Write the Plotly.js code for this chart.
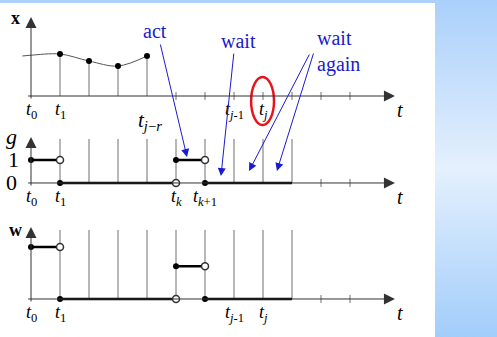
<!DOCTYPE html>
<html><head><meta charset="utf-8">
<script src="https://cdn.plot.ly/plotly-3.0.1.min.js"></script>
<style>
html,body{margin:0;padding:0;width:497px;height:337px;overflow:hidden;
background:linear-gradient(180deg,#aad0fb 0%,#e4f0fd 50%,#a2cdfb 100%);}
#chart{width:497px;height:337px;}
</style></head><body><div id="chart"></div>
<script>
// Sampling instants t_0 ... t_11 (index i stands for t_i)
const gridIdx = [0,1,2,3,4,5,6,7,8,9,10,11];
const idxK = 5, idxJ = 8, idxJR = 4, idxEnd = 9;

// State trajectory x(t) and its samples up to t_{j-r}
const xCurveT = [-0.3, 0, 1, 2, 3, 4];
const xCurveV = [1.0, 1.02, 1.05, 0.875, 0.75, 1.0];
const xSampleT = [1, 2, 3, 4];
const xSampleV = [1.05, 0.875, 0.75, 1.0];

// Event trigger g: piecewise constant between break instants
const gBreaks = [0, 1, 5, 6, 9];
const gLevels = [1, 0, 1, 0];

// Control signal w: piecewise constant on the same breaks
const wBreaks = [0, 1, 5, 6, 9];
const wLevels = [1.0, 0, 0.63, 0];

// Tick labels on each time axis
const xTickPos = [0, 1, 7, 8];
const xTickText = ['<i>t</i><sub>0</sub>', '<i>t</i><sub>1</sub>', '<i>t</i><sub><i>j</i>-1</sub>', '<i>t</i><sub><i>j</i></sub>'];
const gTickPos = [0, 1, 5, 6];
const gTickText = ['<i>t</i><sub>0</sub>', '<i>t</i><sub>1</sub>', '<i>t</i><sub><i>k</i></sub>', '<i>t</i><sub><i>k</i>+1</sub>'];
const wTickPos = [0, 1, 7, 8];
const wTickText = ['<i>t</i><sub>0</sub>', '<i>t</i><sub>1</sub>', '<i>t</i><sub><i>j</i>-1</sub>', '<i>t</i><sub><i>j</i></sub>'];

const AX = '#707070', INK = '#000', BLUE = '#1a1ad0';
const serif = 'Times New Roman, Times, Liberation Serif, serif';

// panel geometry in value units
const P = {
  y:  {top: 1.975, grid: null, tick: 0.1},
  y2: {top: 2.0,  grid: 1.913, tick: 0.174},
  y3: {top: 1.385, grid: 1.327, tick: 0.077}
};

const traces = [];
function segs(xs, ys, yaxis, color, width) {
  traces.push({x: xs, y: ys, yaxis: yaxis, mode: 'lines', hoverinfo: 'skip',
    line: {color: color, width: width}, connectgaps: false});
}

// small ticks on the time axes beyond the drawn grid
function ticks(from, yaxis, h) {
  const xs = [], ys = [];
  gridIdx.filter(i => i >= from).forEach(i => { xs.push(i, i, null); ys.push(-h, h, null); });
  segs(xs, ys, yaxis, AX, 1);
}

// ---- panel x ----
(function () {
  const xs = [], ys = [];
  xSampleT.forEach((t, k) => { xs.push(t, t, null); ys.push(0, xSampleV[k], null); });
  segs(xs, ys, 'y', AX, 1);
  ticks(idxK, 'y', P.y.tick);
  traces.push({x: xCurveT, y: xCurveV, yaxis: 'y', mode: 'lines', hoverinfo: 'skip',
    line: {color: '#555', width: 1, shape: 'spline', smoothing: 1.0}});
  traces.push({x: xSampleT, y: xSampleV, yaxis: 'y', mode: 'markers', hoverinfo: 'skip',
    marker: {color: INK, size: 6}});
})();

// ---- step panels g and w ----
function stepPanel(breaks, levels, yaxis) {
  const gx = [], gy = [];
  gridIdx.filter(i => i >= 1 && i <= idxEnd).forEach(i => { gx.push(i, i, null); gy.push(0, P[yaxis].grid, null); });
  segs(gx, gy, yaxis, AX, 1);
  ticks(idxEnd + 1, yaxis, P[yaxis].tick);
  const sx = [], sy = [], fx = [], fy = [], ox = [], oy = [];
  levels.forEach((lv, k) => {
    sx.push(breaks[k], breaks[k + 1], null); sy.push(lv, lv, null);
    fx.push(breaks[k]); fy.push(lv);
    if (k < levels.length - 1) { ox.push(breaks[k + 1]); oy.push(lv); }
  });
  segs(sx, sy, yaxis, INK, 2.5);
  traces.push({x: fx, y: fy, yaxis: yaxis, mode: 'markers', hoverinfo: 'skip', marker: {color: INK, size: 6}});
  traces.push({x: ox, y: oy, yaxis: yaxis, mode: 'markers', hoverinfo: 'skip',
    marker: {color: '#fff', size: 7, line: {color: '#333', width: 1.5}}});
}
stepPanel(gBreaks, gLevels, 'y2');
stepPanel(wBreaks, wLevels, 'y3');

const ann = [];
// axis arrows
['y', 'y2', 'y3'].forEach(ya => {
  ann.push({x: 12.55, y: 0, xref: 'x', yref: ya, ax: -0.15, ay: 0, axref: 'x', ayref: ya,
    text: '', showarrow: true, arrowhead: 2, arrowsize: 2.2, arrowwidth: 1, arrowcolor: '#333'});
  ann.push({x: 0, y: P[ya].top, xref: 'x', yref: ya, ax: 0, ay: -P[ya].tick, axref: 'x', ayref: ya,
    text: '', showarrow: true, arrowhead: 2, arrowsize: 2.2, arrowwidth: 1, arrowcolor: '#333'});
  ann.push({x: 12.72, y: 0, xref: 'x', yref: ya, text: '<i>t</i>', showarrow: false,
    yanchor: 'top', yshift: -1, font: {family: serif, size: 20, color: INK}});
});
function tickLabels(pos, text, ya) {
  pos.forEach((p, k) => ann.push({x: p, y: 0, xref: 'x', yref: ya, text: text[k], showarrow: false,
    yanchor: 'top', yshift: -1, font: {family: serif, size: 18, color: INK}}));
}
tickLabels(xTickPos, xTickText, 'y');
tickLabels(gTickPos, gTickText, 'y2');
tickLabels(wTickPos, wTickText, 'y3');
ann.push({x: idxJR + 0.1, y: 0, xref: 'x', yref: 'y', text: '<i>t</i><sub><i>j</i>−<i>r</i></sub>', showarrow: false,
  yanchor: 'top', yshift: -10, font: {family: serif, size: 21, color: INK}});

// axis names
ann.push({x: -0.55, y: 1.95, xref: 'x', yref: 'y', text: '<b>x</b>', showarrow: false, font: {family: serif, size: 18, color: INK}});
ann.push({x: -0.66, y: 2.04, xref: 'x', yref: 'y2', text: '<i>g</i>', showarrow: false, font: {family: serif, size: 22, color: INK}});
ann.push({x: -0.62, y: 1, xref: 'x', yref: 'y2', text: '1', showarrow: false, font: {family: serif, size: 22, color: INK}});
ann.push({x: -0.66, y: 0, xref: 'x', yref: 'y2', text: '0', showarrow: false, font: {family: serif, size: 22, color: INK}});
ann.push({x: -0.52, y: 1.327, xref: 'x', yref: 'y3', text: '<b>w</b>', showarrow: false, font: {family: serif, size: 18, color: INK}});

// decision callouts pointing into the trigger panel
const blueFont = {family: serif, size: 20, color: BLUE};
ann.push({x: 4.28, y: 1.625, xref: 'x', yref: 'y', text: 'act', showarrow: false, font: blueFont});
ann.push({x: 7.14, y: 1.375, xref: 'x', yref: 'y', text: 'wait', showarrow: false, font: blueFont});
ann.push({x: 9.79, y: 1.125, xref: 'x', yref: 'y', text: 'wait<br>again', align: 'left', xanchor: 'left',
  showarrow: false, font: blueFont});
function callout(x, y, ax, ay) {
  ann.push({x: x, y: y, xref: 'x', yref: 'y2', ax: ax, ay: ay, text: '', showarrow: true,
    arrowhead: 2, arrowsize: 1.6, arrowwidth: 1, arrowcolor: BLUE});
}
callout(idxK + 0.38, 1.13, -27, -114);
callout(idxK + 1.55, 0.30, 13, -124);
callout(idxJ - 0.48, 0.52, 61, -118);
callout(idxJ + 0.48, 0.52, 37, -119);

const layout = {
  width: 497, height: 337, margin: {l: 0, r: 0, t: 0, b: 0},
  font: {family: serif},
  paper_bgcolor: 'rgba(0,0,0,0)', plot_bgcolor: 'rgba(0,0,0,0)', showlegend: false,
  xaxis: {range: [-1.069, 16.069], visible: false, fixedrange: true},
  yaxis: {domain: [0.6142, 1], range: [-0.85, 2.4], visible: false, fixedrange: true},
  yaxis2: {domain: [0.3769, 0.6291], range: [-1.174, 2.522], visible: false, fixedrange: true, anchor: 'x'},
  yaxis3: {domain: [0, 0.3709], range: [-0.731, 1.673], visible: false, fixedrange: true, anchor: 'x'},
  shapes: [
    {type: 'rect', xref: 'paper', yref: 'paper', x0: 0, x1: 0.8753, y0: 0, y1: 0.9911,
      fillcolor: '#fff', line: {width: 0}, layer: 'below'},
    {type: 'circle', xref: 'x', yref: 'y', x0: idxJ - 0.41, x1: idxJ + 0.38, y0: -0.725, y1: 0.475,
      line: {color: '#e8141c', width: 2.5}}
  ],
  annotations: ann
};
Plotly.newPlot('chart', traces, layout, {staticPlot: true, displayModeBar: false});
</script></body></html>
